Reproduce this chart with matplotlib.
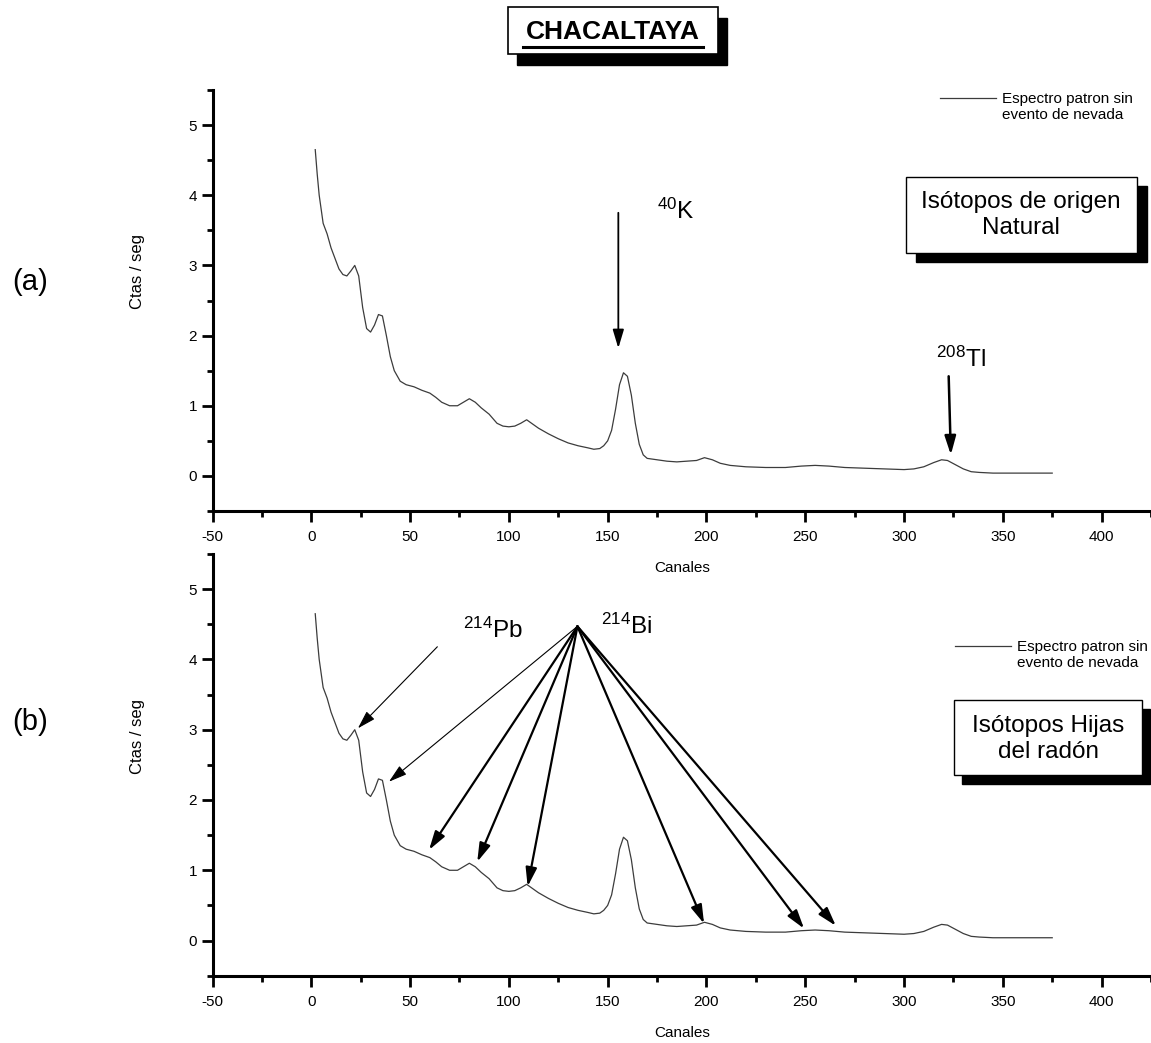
import matplotlib
matplotlib.use("Agg")
import matplotlib.pyplot as plt
from matplotlib.patches import Rectangle
from matplotlib.lines import Line2D
from matplotlib.ticker import MultipleLocator

plt.rcParams['font.family'] = ['Liberation Sans', 'DejaVu Sans']
plt.rcParams['mathtext.fontset'] = 'custom'
plt.rcParams['mathtext.rm'] = 'Liberation Sans'
plt.rcParams['mathtext.default'] = 'regular'
plt.rcParams['axes.unicode_minus'] = False

# Espectro patron (sin evento de nevada)
canales = [2, 3, 4, 5, 6, 8, 10, 12, 14, 16, 18, 20, 22, 24, 26, 28, 30, 32, 34, 36,
           38, 40, 42, 45, 48, 52, 56, 60, 63, 66, 70, 74, 77, 80, 83, 86, 90, 94, 97,
           100, 103, 106, 109, 112, 115, 120, 125, 130, 135, 140, 143, 146, 148, 150,
           152, 154, 156, 158, 160, 162, 164, 166, 168, 170, 175, 180, 185, 190, 195,
           199, 203, 207, 212, 220, 230, 240, 248, 255, 262, 270, 280, 290, 300, 305,
           310, 315, 319, 322, 326, 330, 334, 338, 345, 375]
cuentas = [4.65, 4.3, 4.0, 3.8, 3.6, 3.45, 3.25, 3.1, 2.95, 2.87, 2.85, 2.92, 3.0, 2.85,
           2.4, 2.1, 2.05, 2.15, 2.3, 2.28, 2.0, 1.7, 1.5, 1.35, 1.3, 1.27, 1.22, 1.18,
           1.12, 1.05, 1.0, 1.0, 1.05, 1.1, 1.05, 0.97, 0.88, 0.75, 0.71, 0.7, 0.71, 0.75,
           0.8, 0.74, 0.68, 0.6, 0.53, 0.47, 0.43, 0.4, 0.38, 0.39, 0.43, 0.5, 0.65, 0.95,
           1.3, 1.47, 1.42, 1.15, 0.75, 0.45, 0.3, 0.25, 0.23, 0.21, 0.2, 0.21, 0.22, 0.26,
           0.23, 0.18, 0.15, 0.13, 0.12, 0.12, 0.14, 0.15, 0.14, 0.12, 0.11, 0.1, 0.09,
           0.1, 0.13, 0.19, 0.23, 0.22, 0.16, 0.1, 0.06, 0.05, 0.04, 0.04]

# flechas del panel (a): (inicio, punta)
flecha_k = ((155.4, 3.75), (155.4, 1.82))
flecha_tl = ((322.6, 1.42), (323.7, 0.30))

# flechas del panel (b)
flecha_pb = ((63.8, 4.18), (23.6, 3.02))
bi_origen = (134.7, 4.47)
bi_destinos = [(39.3, 2.26), (59.6, 1.29), (84.0, 1.12), (109.5, 0.77),
               (198.8, 0.24), (249.4, 0.17), (265.5, 0.21)]

W, H = 1151, 1043
fig = plt.figure(figsize=(W / 100, H / 100), dpi=100)


def fx(x):
    return x / W


def fy(y):
    return 1 - y / H


def caja(x0, y0, x1, y1, dx, dy, lw=1.0):
    # sombra negra y caja blanca, en pixeles de la figura
    fig.add_artist(Rectangle((fx(x0 + dx), fy(y1 + dy)), (x1 - x0) / W, (y1 - y0) / H,
                             transform=fig.transFigure, facecolor='k', edgecolor='k'))
    fig.add_artist(Rectangle((fx(x0), fy(y1)), (x1 - x0) / W, (y1 - y0) / H,
                             transform=fig.transFigure, facecolor='white',
                             edgecolor='k', lw=lw))


def flecha(ax, ini, fin, lw, ms):
    ax.annotate('', xy=fin, xytext=ini,
                arrowprops=dict(arrowstyle='-|>,head_length=0.8,head_width=0.24',
                                color='k', lw=lw, mutation_scale=ms,
                                shrinkA=0, shrinkB=0))


def preparar(ax, ley_y):
    ax.patch.set_facecolor('none')
    linea, = ax.plot(canales, cuentas, color='#3c3c3c', lw=0.9)
    ax.set_xlim(-50, 425)
    ax.set_ylim(-0.5, 5.5)
    ax.xaxis.set_major_locator(MultipleLocator(50))
    ax.xaxis.set_minor_locator(MultipleLocator(25))
    ax.yaxis.set_major_locator(MultipleLocator(1))
    ax.yaxis.set_minor_locator(MultipleLocator(0.5))
    for s in ['top', 'right']:
        ax.spines[s].set_visible(False)
    for s in ['left', 'bottom']:
        ax.spines[s].set_linewidth(2.2)
    ax.tick_params(which='major', direction='out', length=8, width=2, labelsize=11)
    ax.tick_params(which='minor', direction='out', length=4, width=2)
    ax.tick_params(axis='x', which='major', pad=6)
    ax.tick_params(axis='y', which='major', pad=3)
    ax.set_xlabel('Canales', fontsize=11, labelpad=12)
    ax.set_ylabel('Ctas / seg', fontsize=12)
    ax.yaxis.set_label_coords(-0.072, 0.568)
    vacio = Line2D([], [], color='none')
    ax.legend([linea, vacio], ['Espectro patron sin', 'evento de nevada'],
              loc='upper left', bbox_to_anchor=ley_y, frameon=False, fontsize=11,
              borderpad=0, borderaxespad=0, handlelength=3.7, handletextpad=0.4,
              labelspacing=0.15)


ax1 = fig.add_axes([fx(212.5), fy(511), 1 - fx(212.5), (511 - 90) / H])
ax2 = fig.add_axes([fx(212.5), fy(975.7), 1 - fx(212.5), (975.7 - 554) / H])
preparar(ax1, (0.775, 0.995))
preparar(ax2, (0.791, 0.796))

# panel (a)
flecha(ax1, flecha_k[0], flecha_k[1], 1.3, 14)
flecha(ax1, flecha_tl[0], flecha_tl[1], 1.8, 14)
ax1.text(175, 3.77, r'$^{40}$K', fontsize=17.5, va='center', ha='left')
ax1.text(316, 1.66, r'$^{208}$Tl', fontsize=17.5, va='center', ha='left')

# panel (b)
flecha(ax2, flecha_pb[0], flecha_pb[1], 0.8, 14)
for i, d in enumerate(bi_destinos):
    flecha(ax2, bi_origen, d, 0.8 if i == 0 else 1.6, 14)
ax2.text(77, 4.42, r'$^{214}$Pb', fontsize=17.5, va='center', ha='left')
ax2.text(146.5, 4.47, r'$^{214}$Bi', fontsize=17.5, va='center', ha='left')

# titulo
caja(508, 7, 718, 54, 9, 11, lw=1.2)
fig.text(fx(613), fy(32), 'CHACALTAYA', fontsize=19, fontweight='bold',
         ha='center', va='center')
fig.add_artist(Line2D([fx(523), fx(703)], [fy(47), fy(47)], color='k', lw=2.2,
                      transform=fig.transFigure))

# cajas de texto
caja(906, 177, 1137, 253, 10, 9)
fig.text(fx(1021), fy(215), 'Isótopos de origen\nNatural', fontsize=17.5,
         ha='center', va='center', linespacing=1.25)
caja(954, 700, 1142, 775, 8, 9)
fig.text(fx(1048), fy(739), 'Isótopos Hijas\ndel radón', fontsize=17.5,
         ha='center', va='center', linespacing=1.25)

fig.text(fx(30), fy(282), '(a)', fontsize=21, ha='center', va='center')
fig.text(fx(30), fy(722), '(b)', fontsize=21, ha='center', va='center')

fig.savefig('out.png', dpi=100)
